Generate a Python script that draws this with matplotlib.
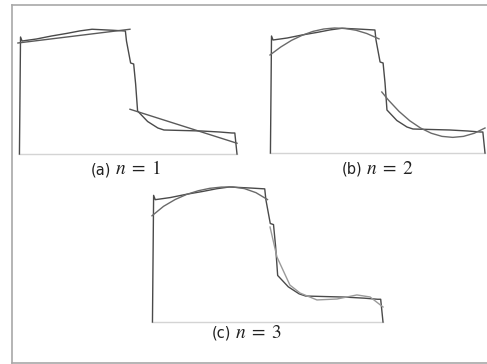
import matplotlib
matplotlib.use("Agg")
import matplotlib.pyplot as plt
from matplotlib.lines import Line2D

plt.rcParams['mathtext.fontset'] = 'stix'

# measured signal (x: % of record length, y: % of plateau level)
sig_x = [0.2, 0.7, 1.4, 8, 14.9, 22, 28, 33.5, 42.8, 48.8, 49.3, 51.2, 52.6, 53.5,
         54.4, 59, 63.7, 66.5, 75, 83.7, 92, 97.7, 99, 100]
sig_y = [0, 93.6, 90.4, 92, 94.4, 96.5, 98.5, 99.8, 99, 98.4, 90.4, 72.8, 72, 56,
         34.4, 26, 20.8, 19.2, 18.8, 18.4, 17.6, 16.8, 16.8, 0]

# (a) n = 1 : linear pieces
a_fit1_x = [-0.5, 50.9]
a_fit1_y = [88.8, 99.8]
a_fit2_x = [50.9, 100]
a_fit2_y = [35.8, 8.6]

# (b) n = 2 : quadratic pieces
b_fit1_x = [0, 5, 10, 15, 20, 25, 30, 35, 40, 45, 50.7]
b_fit1_y = [78.4, 84.8, 90.1, 94.2, 97.3, 99.2, 100, 99.6, 98.2, 95.6, 91.3]
b_fit2_x = [52, 55, 60, 65, 70, 75, 80, 85, 90, 95, 100]
b_fit2_y = [48.8, 42.5, 33.3, 25.8, 20, 15.8, 13.3, 12.5, 13.3, 15.8, 20]

# (c) n = 3 : cubic pieces
c_fit1_x = [0, 5, 10, 15, 20, 25, 30, 35, 40, 45, 50]
c_fit1_y = [78.5, 85.5, 90.5, 94.3, 97, 98.8, 99.7, 99.8, 98.6, 95.6, 90.5]
c_fit2_x = [51.1, 54.1, 59.7, 64.1, 71.4, 80.1, 88.7, 94.4, 100]
c_fit2_y = [70.2, 48.0, 27.3, 21.4, 16.3, 17.0, 20.0, 18.5, 11.1]

tags = ["(a)", "(b)", "(c)"]
orders = ["$n\\;=\\;1$", "$n\\;=\\;2$", "$n\\;=\\;3$"]

W, H = 487, 364
fig = plt.figure(figsize=(W / 100, H / 100), dpi=100)
fig.patch.set_facecolor('white')

# outer frame (left, top, bottom)
border = '#a8a8a8'
fig.add_artist(Line2D([11.5 / W, 11.5 / W], [1 - 4.5 / H, 1 - 362.5 / H], color=border, lw=1.2))
fig.add_artist(Line2D([11.5 / W, 1.0], [1 - 4.5 / H, 1 - 4.5 / H], color=border, lw=1.2))
fig.add_artist(Line2D([11.5 / W, 1.0], [1 - 362.5 / H, 1 - 362.5 / H], color=border, lw=1.2))


def panel(left, width, base, scale, fits, tag, order, lx, ly, fit_colors):
    top = 112
    ax = fig.add_axes([left / W, 1 - base / H, width / W, top * scale / H])
    ax.set_xlim(0, 100)
    ax.set_ylim(0, top)
    ax.axis('off')
    ax.plot([0, 100], [0, 0], color='#d4d4d4', lw=1.0, clip_on=False)
    ax.plot(sig_x, sig_y, color='#4a4a4a', lw=1.0, clip_on=False)
    for (fx, fy), c in zip(fits, fit_colors):
        ax.plot(fx, fy, color=c, lw=1.0, clip_on=False)
    fig.text((lx - 2) / W, 1 - ly / H, tag, ha='right', va='center',
             fontsize=10.5, color='#222222')
    fig.text((lx + 2) / W, 1 - (ly - 1) / H, order, ha='left', va='center',
             fontsize=14, color='#222222')


panel(19, 218, 154, 1.25, [(a_fit1_x, a_fit1_y), (a_fit2_x, a_fit2_y)],
      tags[0], orders[0], 113, 170, ['#5a5a5a', '#5a5a5a'])
panel(270, 215, 153, 1.25, [(b_fit1_x, b_fit1_y), (b_fit2_x, b_fit2_y)],
      tags[1], orders[1], 364, 169, ['#6a6a6a', '#6a6a6a'])
panel(152, 231, 322, 1.353, [(c_fit1_x, c_fit1_y), (c_fit2_x, c_fit2_y)],
      tags[2], orders[2], 233, 333, ['#6a6a6a', '#9a9a9a'])

fig.savefig('out.png', dpi=100)
